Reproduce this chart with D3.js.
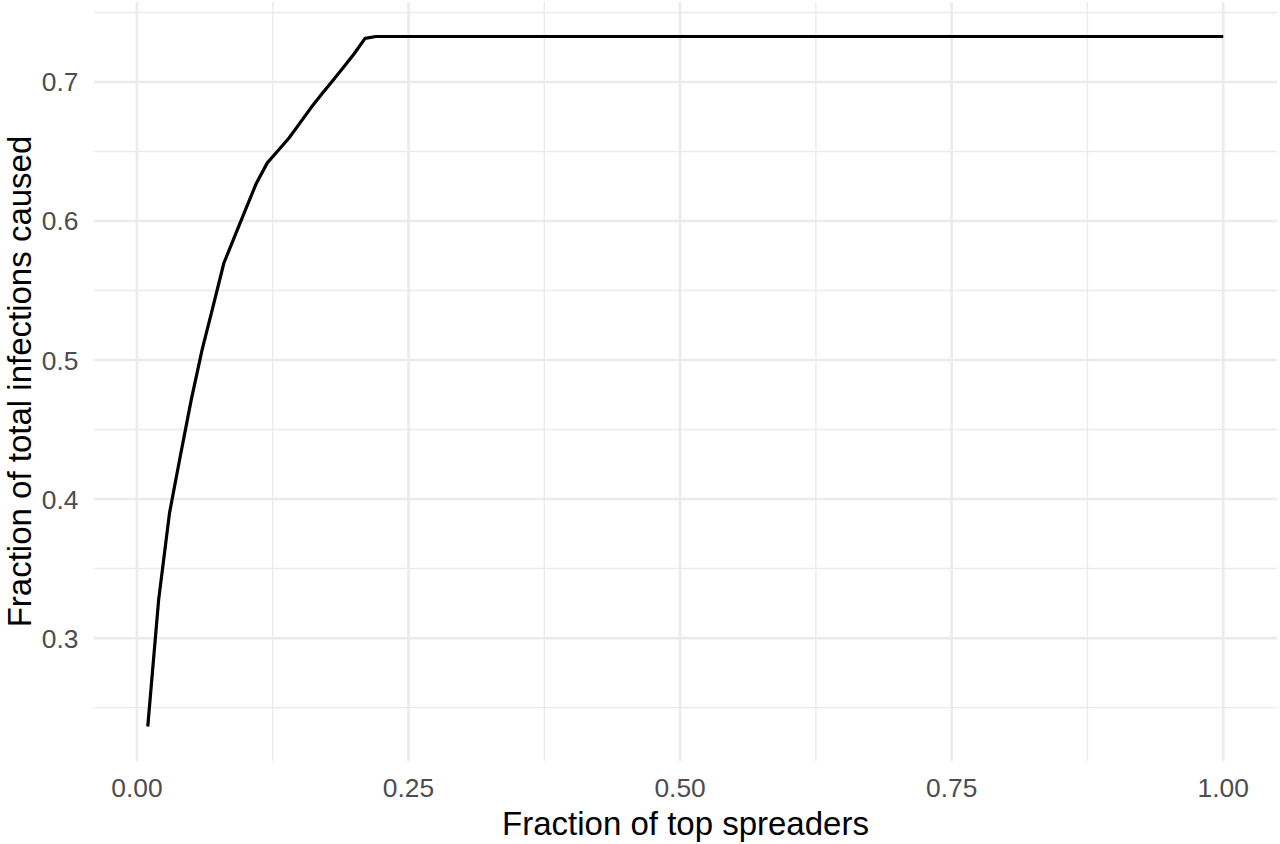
<!DOCTYPE html>
<html>
<head>
<meta charset="utf-8">
<script src="https://cdn.jsdelivr.net/npm/d3@7"></script>
<style>
  html, body { margin: 0; padding: 0; background: #ffffff; }
  svg { display: block; }
</style>
</head>
<body>
<svg id="chart" width="1280" height="844"></svg>
<script>
// ---- data ----
const fractionTopSpreaders = [0.01, 0.02, 0.03, 0.04, 0.05, 0.06, 0.07, 0.08, 0.09, 0.10,
  0.11, 0.12, 0.13, 0.14, 0.15, 0.16, 0.17, 0.18, 0.19, 0.20, 0.21, 0.22, 1.00];
const fractionInfections = [0.2364, 0.3275, 0.3899, 0.4311, 0.4713, 0.5073, 0.5382, 0.5696, 0.5889, 0.6082,
  0.6272, 0.6418, 0.6507, 0.6597, 0.6704, 0.6812, 0.6912, 0.7007, 0.7104, 0.7203, 0.7314, 0.7327, 0.7327];
const xMajorTicks = [0, 0.25, 0.5, 0.75, 1.0];
const xTickLabels = ["0.00", "0.25", "0.50", "0.75", "1.00"];
const xMinorTicks = [0.125, 0.375, 0.625, 0.875];
const yMajorTicks = [0.3, 0.4, 0.5, 0.6, 0.7];
const yTickLabels = ["0.3", "0.4", "0.5", "0.6", "0.7"];
const yMinorTicks = [0.25, 0.35, 0.45, 0.55, 0.65, 0.75];
const xTitle = "Fraction of top spreaders";
const yTitle = "Fraction of total infections caused";

const data = fractionTopSpreaders.map((x, i) => ({ x, y: fractionInfections[i] }));

const svg = d3.select("#chart");
const panel = { left: 94, right: 1277, top: 2, bottom: 761 };

function expand(ext) {
  const pad = (ext[1] - ext[0]) * 0.05;
  return [ext[0] - pad, ext[1] + pad];
}
const x = d3.scaleLinear().domain(expand(d3.extent(fractionTopSpreaders))).range([panel.left, panel.right]);
const y = d3.scaleLinear().domain(expand(d3.extent(fractionInfections))).range([panel.bottom, panel.top]);

const grid = svg.append("g");
// minor grid
grid.selectAll("line.ymin").data(yMinorTicks.filter(v => y(v) >= panel.top && y(v) <= panel.bottom)).enter()
  .append("line").attr("x1", panel.left).attr("x2", panel.right)
  .attr("y1", d => y(d)).attr("y2", d => y(d))
  .attr("stroke", "#ebebeb").attr("stroke-width", 1.4);
grid.selectAll("line.xmin").data(xMinorTicks).enter()
  .append("line").attr("y1", panel.top).attr("y2", panel.bottom)
  .attr("x1", d => x(d)).attr("x2", d => x(d))
  .attr("stroke", "#ebebeb").attr("stroke-width", 1.4);
// major grid
grid.selectAll("line.ymaj").data(yMajorTicks).enter()
  .append("line").attr("x1", panel.left).attr("x2", panel.right)
  .attr("y1", d => y(d)).attr("y2", d => y(d))
  .attr("stroke", "#ebebeb").attr("stroke-width", 2.6);
grid.selectAll("line.xmaj").data(xMajorTicks).enter()
  .append("line").attr("y1", panel.top).attr("y2", panel.bottom)
  .attr("x1", d => x(d)).attr("x2", d => x(d))
  .attr("stroke", "#ebebeb").attr("stroke-width", 2.6);

// line
const line = d3.line().x(d => x(d.x)).y(d => y(d.y));
svg.append("path").datum(data)
  .attr("d", line)
  .attr("fill", "none")
  .attr("stroke", "#000000")
  .attr("stroke-width", 3.2)
  .attr("stroke-linejoin", "round");

const font = "'Liberation Sans', Arial, Helvetica, sans-serif";

// x tick labels
svg.append("g").selectAll("text").data(xMajorTicks).enter()
  .append("text")
  .attr("x", d => x(d)).attr("y", 797)
  .attr("text-anchor", "middle")
  .attr("font-family", font).attr("font-size", 26.4)
  .attr("fill", "#4d4d4d")
  .text((d, i) => xTickLabels[i]);

// y tick labels
svg.append("g").selectAll("text").data(yMajorTicks).enter()
  .append("text")
  .attr("x", 78.5).attr("y", d => y(d)).attr("dy", "0.36em")
  .attr("text-anchor", "end")
  .attr("font-family", font).attr("font-size", 26.4)
  .attr("fill", "#4d4d4d")
  .text((d, i) => yTickLabels[i]);

// axis titles
svg.append("text")
  .attr("x", (panel.left + panel.right) / 2).attr("y", 835)
  .attr("text-anchor", "middle")
  .attr("font-family", font).attr("font-size", 33)
  .attr("fill", "#000000")
  .text(xTitle);

svg.append("text")
  .attr("transform", `translate(31,${(panel.top + panel.bottom) / 2}) rotate(-90)`)
  .attr("text-anchor", "middle")
  .attr("font-family", font).attr("font-size", 33)
  .attr("fill", "#000000")
  .text(yTitle);
</script>
</body>
</html>
